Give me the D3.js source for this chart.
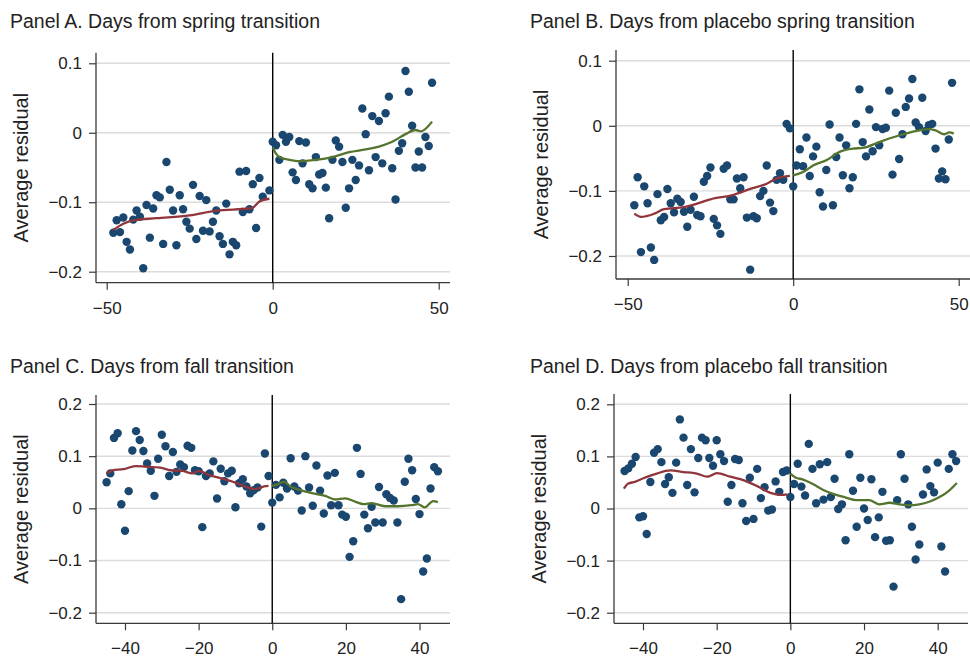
<!DOCTYPE html>
<html>
<head>
<meta charset="utf-8">
<script src="https://cdn.jsdelivr.net/npm/d3@7"></script>
<style>
  html, body { margin: 0; padding: 0; background: #fff; }
  svg { display: block; }
</style>
</head>
<body>
<svg id="chart" width="970" height="659"></svg>
<script>
// ---------------- DATA ----------------
const titles = [
  "Panel A. Days from spring transition",
  "Panel B. Days from placebo spring transition",
  "Panel C. Days from fall transition",
  "Panel D. Days from placebo fall transition"
];
const yAxisTitle = "Average residual";

const xTicksSpring = [-50, 0, 50];
const xTicksFall = [-40, -20, 0, 20, 40];
const yTicksSpring = [0.1, 0, -0.1, -0.2];
const yTicksFall = [0.2, 0.1, 0, -0.1, -0.2];

// Panel A: [day, average residual]
const dotsA_before = [[-48,-0.144],[-47,-0.126],[-46,-0.143],[-45,-0.122],[-44,-0.157],[-43,-0.168],[-42,-0.125],[-41,-0.112],[-40,-0.121],[-39,-0.195],[-38,-0.104],[-37,-0.151],[-36,-0.109],[-35,-0.090],[-34,-0.093],[-33,-0.160],[-32,-0.042],[-31,-0.082],[-30,-0.112],[-29,-0.162],[-28,-0.090],[-27,-0.110],[-26,-0.128],[-25,-0.138],[-24,-0.075],[-23,-0.153],[-22,-0.091],[-21,-0.141],[-20,-0.097],[-19,-0.142],[-18,-0.128],[-17,-0.112],[-16,-0.149],[-15,-0.160],[-14,-0.102],[-13,-0.175],[-12,-0.157],[-11,-0.162],[-10,-0.056],[-9,-0.114],[-8,-0.055],[-7,-0.110],[-6,-0.074],[-5,-0.137],[-4,-0.065],[-3,-0.092],[-1,-0.083]];
const dotsA_after = [[0,-0.013],[1,-0.018],[2,-0.039],[3,-0.003],[4,-0.013],[5,-0.006],[6,-0.057],[7,-0.068],[8,-0.012],[9,-0.044],[10,-0.014],[11,-0.074],[12,-0.080],[13,-0.035],[14,-0.060],[15,-0.058],[16,-0.079],[17,-0.123],[18,-0.039],[19,-0.011],[20,-0.020],[21,-0.042],[22,-0.108],[23,-0.080],[24,-0.039],[25,-0.068],[26,-0.047],[27,0.035],[28,-0.002],[29,-0.054],[30,0.024],[31,-0.035],[32,0.017],[33,-0.044],[34,0.028],[35,0.052],[36,-0.051],[37,-0.096],[38,-0.026],[39,-0.015],[40,0.089],[41,0.059],[42,0.010],[43,-0.050],[44,-0.027],[45,-0.050],[46,-0.006],[47,-0.019],[48,0.072]];
const fitA_before = [[-48,-0.140],[-45,-0.131],[-42,-0.126],[-35,-0.123],[-25,-0.119],[-17,-0.112],[-7,-0.109],[-6,-0.108],[-4,-0.099],[-1,-0.095]];
const fitA_after = [[0,-0.021],[1,-0.030],[2,-0.035],[5,-0.039],[8,-0.041],[13,-0.039],[18,-0.035],[23,-0.028],[28,-0.024],[32,-0.020],[36,-0.013],[40,-0.002],[43,0.004],[44.6,0.002],[48,0.016]];

// Panel B
const dotsB_before = [[-48,-0.122],[-47,-0.079],[-46,-0.194],[-45,-0.093],[-44,-0.119],[-43,-0.187],[-42,-0.206],[-41,-0.105],[-40,-0.145],[-39,-0.140],[-38,-0.097],[-37,-0.119],[-36,-0.133],[-35,-0.112],[-34,-0.117],[-33,-0.132],[-32,-0.155],[-31,-0.129],[-30,-0.109],[-29,-0.137],[-28,-0.139],[-27,-0.086],[-26,-0.077],[-25,-0.064],[-24,-0.143],[-23,-0.153],[-22,-0.166],[-21,-0.066],[-20,-0.061],[-19,-0.113],[-18,-0.113],[-17,-0.081],[-16,-0.096],[-15,-0.079],[-14,-0.141],[-13,-0.221],[-12,-0.139],[-11,-0.142],[-10,-0.108],[-9,-0.100],[-8,-0.061],[-7,-0.118],[-6,-0.131],[-5,-0.083],[-4,-0.073],[-3,-0.083],[-2,0.003],[-1,-0.004]];
const dotsB_after = [[0,-0.093],[1,-0.061],[2,-0.036],[3,-0.062],[4,-0.018],[5,-0.077],[6,-0.047],[7,-0.032],[8,-0.102],[9,-0.124],[10,-0.068],[11,0.002],[12,-0.122],[13,-0.048],[14,-0.018],[15,-0.076],[16,-0.030],[17,-0.096],[18,-0.079],[19,0.003],[20,0.056],[21,-0.025],[22,-0.047],[23,0.025],[24,-0.039],[25,-0.002],[26,-0.030],[27,-0.005],[28,-0.003],[29,0.054],[30,-0.075],[31,0.020],[32,-0.051],[33,-0.013],[34,0.029],[35,0.042],[36,0.072],[37,0.005],[38,-0.002],[39,0.043],[40,-0.008],[41,0.001],[42,0.003],[43,-0.035],[44,-0.081],[45,-0.070],[46,-0.082],[47,-0.021],[48,0.066]];
const fitB_before = [[-48,-0.135],[-46,-0.140],[-42,-0.135],[-39,-0.128],[-33,-0.125],[-30,-0.121],[-25,-0.113],[-18,-0.106],[-13,-0.097],[-8,-0.089],[-5,-0.081],[-1,-0.077]];
const fitB_after = [[0,-0.076],[3,-0.071],[4,-0.068],[6,-0.061],[10,-0.053],[14,-0.040],[18,-0.035],[21,-0.034],[26,-0.025],[30,-0.018],[34,-0.012],[38,-0.007],[41,-0.005],[43,-0.007],[45.7,-0.013],[47.2,-0.010],[48.5,-0.012]];

// Panel C
const dotsC_before = [[-45,0.050],[-44,0.067],[-43,0.135],[-42,0.144],[-41,0.008],[-40,-0.043],[-39,0.033],[-38,0.111],[-37,0.148],[-36,0.131],[-35,0.110],[-34,0.086],[-33,0.072],[-32,0.024],[-31,0.095],[-30,0.141],[-29,0.119],[-28,0.062],[-27,0.108],[-26,0.070],[-25,0.084],[-24,0.079],[-23,0.120],[-22,0.116],[-21,0.073],[-20,0.071],[-19,-0.036],[-18,0.062],[-17,0.067],[-16,0.090],[-15,0.019],[-14,0.076],[-13,0.052],[-12,0.067],[-11,0.072],[-10,0.002],[-9,0.048],[-8,0.056],[-7,0.042],[-6,0.029],[-5,0.035],[-4,0.040],[-3,-0.035],[-2,0.105],[-1,0.062]];
const dotsC_after = [[0,0.011],[1,0.045],[2,0.021],[3,0.049],[4,0.038],[5,0.096],[6,0.042],[7,0.034],[8,-0.004],[9,0.100],[10,0.040],[11,0.005],[12,0.082],[13,0.034],[14,-0.010],[15,0.063],[16,0.006],[17,0.068],[18,0.006],[19,-0.012],[20,-0.016],[21,-0.093],[22,-0.063],[23,0.116],[24,0.066],[25,-0.012],[26,-0.038],[27,0.003],[28,-0.027],[29,0.041],[30,-0.027],[31,0.027],[32,0.020],[33,0.015],[34,-0.027],[35,-0.174],[36,0.051],[37,0.095],[38,0.073],[39,0.018],[40,-0.011],[41,-0.121],[42,-0.096],[43,0.038],[44,0.079],[45,0.071]];
const fitC_before = [[-45,0.067],[-43.4,0.073],[-40.4,0.075],[-37.2,0.081],[-34.5,0.080],[-30.4,0.078],[-27.6,0.073],[-24.5,0.072],[-21.7,0.067],[-19.9,0.072],[-17.6,0.065],[-13.1,0.056],[-9.5,0.048],[-6.7,0.040],[-4.5,0.037],[-2.2,0.042],[-1,0.043]];
const fitC_after = [[0,0.043],[1.4,0.046],[3.2,0.051],[4.9,0.042],[7.2,0.036],[10.8,0.029],[14.4,0.024],[17.1,0.017],[19.8,0.019],[22.5,0.013],[24.8,0.008],[27,0.010],[30.6,0.004],[34.2,0.004],[37.8,0.006],[39.6,0.008],[41.4,0.002],[43.7,0.014],[45,0.012]];

// Panel D
const dotsD_before = [[-45,0.072],[-44,0.077],[-43,0.086],[-42,0.099],[-41,-0.017],[-40,-0.015],[-39,-0.049],[-38,0.051],[-37,0.107],[-36,0.114],[-35,0.089],[-34,0.047],[-33,0.060],[-32,0.030],[-31,0.088],[-30,0.171],[-29,0.136],[-28,0.045],[-27,0.114],[-26,0.031],[-25,0.097],[-24,0.136],[-23,0.131],[-22,0.097],[-21,0.082],[-20,0.131],[-19,0.104],[-18,0.091],[-17,0.013],[-16,0.045],[-15,0.095],[-14,0.093],[-13,0.010],[-12,-0.024],[-11,0.059],[-10,-0.020],[-9,0.076],[-8,0.020],[-7,0.041],[-6,-0.004],[-5,-0.002],[-4,0.052],[-3,0.032],[-2,0.070],[-1,0.073]];
const dotsD_after = [[0,0.022],[1,0.047],[2,0.086],[3,0.042],[4,0.025],[5,0.124],[6,0.076],[7,0.010],[8,0.085],[9,0.017],[10,0.089],[11,0.022],[12,0.057],[13,-0.001],[14,0.008],[15,-0.061],[16,0.104],[17,0.034],[18,-0.035],[19,0.059],[20,0.000],[21,-0.022],[22,0.056],[23,-0.055],[24,-0.017],[25,0.032],[26,-0.062],[27,-0.061],[28,-0.150],[29,0.016],[30,0.104],[31,0.057],[32,0.008],[33,-0.035],[34,-0.098],[35,-0.069],[36,0.027],[37,0.075],[38,0.043],[39,0.031],[40,0.088],[41,-0.073],[42,-0.121],[43,0.076],[44,0.104],[45,0.091]];
const fitD_before = [[-45.2,0.038],[-44,0.048],[-42.2,0.051],[-39.9,0.058],[-36.3,0.067],[-32.6,0.073],[-29,0.070],[-25.4,0.067],[-22.6,0.061],[-19.9,0.068],[-16.3,0.061],[-12.6,0.054],[-9,0.043],[-5.4,0.030],[-2.6,0.026],[-0.8,0.027]];
const fitD_after = [[0,0.067],[1.5,0.059],[3.3,0.056],[6.1,0.047],[8.8,0.036],[12.4,0.026],[15.1,0.021],[17.8,0.016],[21.4,0.016],[24.2,0.008],[26.9,0.011],[29.6,0.008],[32.3,0.006],[35,0.008],[37.7,0.013],[40.5,0.022],[43.2,0.035],[45.2,0.049]];

// ---------------- STYLE / LAYOUT ----------------
const FONT = "'Liberation Sans', Arial, Helvetica, sans-serif";
const TEXT = "#222";
const DOT = "#1a476f";
const RED = "#90353b";
const GREEN = "#55752f";
const GRID = "#dcdcdc";
const AXIS = "#3a3a3a";

const layouts = [
  { left: 96,  right: 450, top: 52.7, bottom: 282.7, xDom: [-50, 50], xRng: [106.7, 438.7], yDom: [-0.2, 0.1], yRng: [271.7, 63.3], titleX: 10,  titleY: 28,  yLabX: 21 },
  { left: 616, right: 970, top: 50,   bottom: 279,   xDom: [-50, 50], xRng: [627.7, 958.7], yDom: [-0.2, 0.1], yRng: [256, 60.7],   titleX: 530, titleY: 28,  yLabX: 541 },
  { left: 96,  right: 450, top: 395,  bottom: 623.3, xDom: [-40, 40], xRng: [125, 419.5],   yDom: [-0.2, 0.2], yRng: [612.7, 404],  titleX: 10,  titleY: 373, yLabX: 21 },
  { left: 614, right: 968, top: 394,  bottom: 623.3, xDom: [-40, 40], xRng: [643, 937.7],   yDom: [-0.2, 0.2], yRng: [612.7, 404.3],titleX: 530, titleY: 373, yLabX: 539 }
];

const panels = [
  { title: titles[0], xt: xTicksSpring, yt: yTicksSpring, dl: dotsA_before, dr: dotsA_after, fl: fitA_before, fr: fitA_after },
  { title: titles[1], xt: xTicksSpring, yt: yTicksSpring, dl: dotsB_before, dr: dotsB_after, fl: fitB_before, fr: fitB_after },
  { title: titles[2], xt: xTicksFall,   yt: yTicksFall,   dl: dotsC_before, dr: dotsC_after, fl: fitC_before, fr: fitC_after },
  { title: titles[3], xt: xTicksFall,   yt: yTicksFall,   dl: dotsD_before, dr: dotsD_after, fl: fitD_before, fr: fitD_after }
];

const svg = d3.select("#chart");
svg.append("rect").attr("width", 970).attr("height", 659).attr("fill", "#fff");

const fmtNum = v => {
  let s = (v === 0) ? "0" : String(Math.round(v * 1000) / 1000);
  return s.replace("-", "\u2212");
};

panels.forEach((p, i) => {
  const L = layouts[i];
  const x = d3.scaleLinear().domain(L.xDom).range(L.xRng);
  const y = d3.scaleLinear().domain(L.yDom).range(L.yRng);
  const g = svg.append("g");

  // title
  g.append("text")
    .attr("x", L.titleX).attr("y", L.titleY)
    .attr("font-family", FONT).attr("font-size", 19.5).attr("fill", TEXT)
    .text(p.title);

  // gridlines
  g.selectAll(".grid").data(p.yt).enter().append("line")
    .attr("x1", L.left).attr("x2", L.right)
    .attr("y1", d => y(d)).attr("y2", d => y(d))
    .attr("stroke", GRID).attr("stroke-width", 1.4);

  // y axis
  const yAxis = d3.axisLeft(y).tickValues(p.yt).tickSize(7).tickPadding(7).tickFormat(fmtNum);
  const ya = g.append("g").attr("transform", `translate(${L.left},0)`).call(yAxis);
  ya.select(".domain").remove();
  ya.selectAll(".tick line").attr("stroke", AXIS).attr("stroke-width", 1.2);
  ya.selectAll(".tick text").attr("font-family", FONT).attr("font-size", 17).attr("fill", TEXT);
  g.append("line").attr("x1", L.left).attr("x2", L.left).attr("y1", L.top).attr("y2", L.bottom)
    .attr("stroke", AXIS).attr("stroke-width", 1.3);

  // x axis
  const xAxis = d3.axisBottom(x).tickValues(p.xt).tickSize(7).tickPadding(12).tickFormat(fmtNum);
  const xa = g.append("g").attr("transform", `translate(0,${L.bottom})`).call(xAxis);
  xa.select(".domain").remove();
  xa.selectAll(".tick line").attr("stroke", AXIS).attr("stroke-width", 1.2);
  xa.selectAll(".tick text").attr("font-family", FONT).attr("font-size", 17).attr("fill", TEXT);
  g.append("line").attr("x1", L.left).attr("x2", L.right).attr("y1", L.bottom).attr("y2", L.bottom)
    .attr("stroke", AXIS).attr("stroke-width", 1.3);

  // y axis title
  const cy = (L.top + L.bottom) / 2;
  g.append("text")
    .attr("transform", `translate(${L.yLabX + 7},${cy}) rotate(-90)`)
    .attr("text-anchor", "middle")
    .attr("font-family", FONT).attr("font-size", 20).attr("fill", TEXT)
    .text(yAxisTitle);

  // vertical line at 0
  g.append("line").attr("x1", x(0)).attr("x2", x(0)).attr("y1", L.top).attr("y2", L.bottom)
    .attr("stroke", "#000").attr("stroke-width", 1.4);

  // dots
  const dots = p.dl.concat(p.dr);
  g.selectAll(".dot").data(dots).enter().append("circle")
    .attr("cx", d => x(d[0])).attr("cy", d => y(d[1])).attr("r", 4.2)
    .attr("fill", DOT);

  // fitted lines
  const line = d3.line().x(d => x(d[0])).y(d => y(d[1])).curve(d3.curveMonotoneX);
  g.append("path").attr("d", line(p.fl)).attr("fill", "none").attr("stroke", RED).attr("stroke-width", 2.3);
  g.append("path").attr("d", line(p.fr)).attr("fill", "none").attr("stroke", GREEN).attr("stroke-width", 2.3);
});
</script>
</body>
</html>
